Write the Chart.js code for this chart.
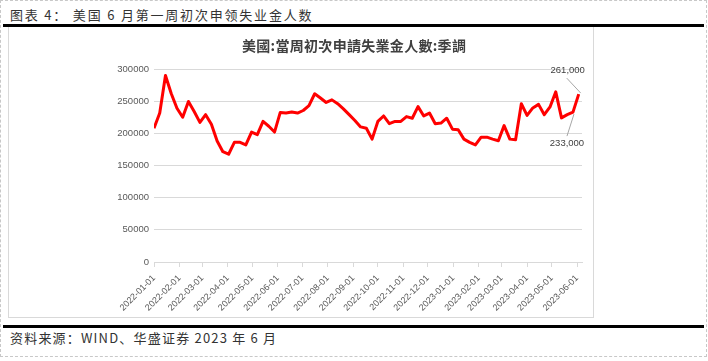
<!DOCTYPE html>
<html><head><meta charset="utf-8">
<script src="https://cdn.jsdelivr.net/npm/chart.js@4.4.0/dist/chart.umd.min.js"></script>
<style>
html,body{margin:0;padding:0;background:#fff;}
body{width:708px;height:361px;position:relative;overflow:hidden;font-family:"Noto Sans CJK SC",sans-serif;}
#frame{position:absolute;left:0;top:0;width:705px;height:355px;border:1px dashed #c8c8c8;}
#fig-title{position:absolute;left:10px;top:6px;font-size:13px;line-height:18px;color:#333;letter-spacing:1.8px;white-space:nowrap;}
.rule{position:absolute;left:3px;width:701px;height:3px;background:#000;}
#box{position:absolute;left:8px;top:27px;width:584px;height:290px;border:1px solid #d9d9d9;border-top:none;}
#chart-wrap{position:absolute;left:9px;top:28px;width:584px;height:290px;}
#chart-title{position:absolute;left:242px;top:36px;font-family:"Noto Sans CJK TC",sans-serif;font-size:14px;line-height:18px;font-weight:bold;color:#404040;letter-spacing:0.3px;white-space:nowrap;}
#source{position:absolute;left:10px;top:329px;font-size:13px;line-height:18px;color:#333;letter-spacing:1.2px;white-space:nowrap;}
</style>
</head><body>
<div id="frame"></div>
<div id="fig-title">图表 4： 美国 6 月第一周初次申领失业金人数</div>
<div class="rule" style="top:24px"></div>
<div id="box"></div>
<div id="chart-wrap"><canvas id="c" width="584" height="290"></canvas></div>
<div id="chart-title">美國:當周初次申請失業金人數:季調</div>
<div class="rule" style="top:325px"></div>
<div id="source">资料来源：WIND、华盛证券 2023 年 6 月</div>
<script>
// weekly dates (week ending)
const weekDates = [
 '2022-01-01','2022-01-08','2022-01-15','2022-01-22','2022-01-29',
 '2022-02-05','2022-02-12','2022-02-19','2022-02-26',
 '2022-03-05','2022-03-12','2022-03-19','2022-03-26',
 '2022-04-02','2022-04-09','2022-04-16','2022-04-23','2022-04-30',
 '2022-05-07','2022-05-14','2022-05-21','2022-05-28',
 '2022-06-04','2022-06-11','2022-06-18','2022-06-25',
 '2022-07-02','2022-07-09','2022-07-16','2022-07-23','2022-07-30',
 '2022-08-06','2022-08-13','2022-08-20','2022-08-27',
 '2022-09-03','2022-09-10','2022-09-17','2022-09-24',
 '2022-10-01','2022-10-08','2022-10-15','2022-10-22','2022-10-29',
 '2022-11-05','2022-11-12','2022-11-19','2022-11-26',
 '2022-12-03','2022-12-10','2022-12-17','2022-12-24','2022-12-31',
 '2023-01-07','2023-01-14','2023-01-21','2023-01-28',
 '2023-02-04','2023-02-11','2023-02-18','2023-02-25',
 '2023-03-04','2023-03-11','2023-03-18','2023-03-25',
 '2023-04-01','2023-04-08','2023-04-15','2023-04-22','2023-04-29',
 '2023-05-06','2023-05-13','2023-05-20','2023-05-27','2023-06-03'
];
// initial jobless claims, seasonally adjusted
const initialClaims = [
 208000,231500,290000,262000,239000,
 225000,249500,234000,217000,
 229000,214000,188000,171500,
 167500,186000,186000,182000,202000,
 198000,218500,211000,202000,
 232500,231500,233000,231500,
 235500,243000,261500,255000,248000,
 252000,246000,238000,229000,
 220000,210000,208000,191000,
 218500,227000,215000,218500,218500,
 226000,223500,241500,227000,
 231500,215000,216000,223500,206500,
 205500,191000,186000,182000,
 194000,194000,191000,188500,
 212000,191000,190000,246000,
 228000,239500,245000,229000,241000,
 264500,224000,229000,233000,261000
];
const xTickLabels = [
 '2022-01-01','2022-02-01','2022-03-01','2022-04-01','2022-05-01','2022-06-01',
 '2022-07-01','2022-08-01','2022-09-01','2022-10-01','2022-11-01','2022-12-01',
 '2023-01-01','2023-02-01','2023-03-01','2023-04-01','2023-05-01','2023-06-01'
];
const yTickValues = [0,50000,100000,150000,200000,250000,300000];
const axisEndDate = '2023-06-07';
const labelledPoints = [73, 74]; // indices of annotated points

const DAY = 86400000;
const origin = Date.UTC(2022,0,1);
function dayIndex(s){const p=s.split('-').map(Number);return (Date.UTC(p[0],p[1]-1,p[2])-origin)/DAY;}

const points = weekDates.map((d,i)=>({x:dayIndex(d), y:initialClaims[i]}));

const labelPlugin = {
  id:'endLabels',
  afterDatasetsDraw(chart){
    const ctx = chart.ctx;
    const meta = chart.getDatasetMeta(0);
    ctx.save();
    ctx.font = '9.5px "Liberation Sans", Arial, sans-serif';
    ctx.fillStyle = '#404040';
    ctx.strokeStyle = '#a6a6a6';
    ctx.lineWidth = 1;
    ctx.textAlign = 'center';
    ctx.textBaseline = 'middle';
    const pA = meta.data[labelledPoints[0]];
    const vA = initialClaims[labelledPoints[0]].toLocaleString('en-US');
    ctx.beginPath(); ctx.moveTo(pA.x+1, pA.y+2); ctx.lineTo(pA.x-6, pA.y+24); ctx.stroke();
    ctx.fillText(vA, pA.x-6, pA.y+31);
    const pB = meta.data[labelledPoints[1]];
    const vB = initialClaims[labelledPoints[1]].toLocaleString('en-US');
    ctx.beginPath(); ctx.moveTo(pB.x+2, pB.y-1); ctx.lineTo(pB.x-12, pB.y-16); ctx.stroke();
    ctx.fillText(vB, pB.x-11, pB.y-23.5);
    ctx.restore();
  }
};

new Chart(document.getElementById('c'), {
  type:'line',
  data:{datasets:[{
    data:points,
    borderColor:'#ff0000',
    borderWidth:3,
    pointRadius:0,
    tension:0,
    borderJoinStyle:'round',
    fill:false
  }]},
  options:{
    responsive:false,
    animation:false,
    devicePixelRatio:1,
    layout:{padding:{left:0,right:11,top:41,bottom:0}},
    plugins:{
      legend:{display:false},
      tooltip:{enabled:false},
      title:{display:false}
    },
    scales:{
      x:{
        type:'linear',
        min:0,
        max:dayIndex(axisEndDate),
        afterBuildTicks(scale){ scale.ticks = xTickLabels.map(s=>({value:dayIndex(s)})); },
        afterFit(scale){ scale.height = 56; },
        grid:{drawOnChartArea:false, drawTicks:true, tickLength:5, color:'#d9d9d9'},
        border:{display:true, color:'#d9d9d9'},
        ticks:{
          autoSkip:false, minRotation:45, maxRotation:45, padding:6,
          color:'#595959',
          font:{family:'"Liberation Sans", Arial, sans-serif', size:9},
          callback(v){ const i = xTickLabels.findIndex(s=>dayIndex(s)===v); return i>=0?xTickLabels[i]:''; }
        }
      },
      y:{
        min:0, max:300000,
        afterBuildTicks(scale){ scale.ticks = yTickValues.map(v=>({value:v})); },
        afterFit(scale){ scale.width = 145; },
        grid:{drawTicks:false, color:'#d9d9d9'},
        border:{display:false},
        ticks:{
          padding:5, color:'#595959',
          font:{family:'"Liberation Sans", Arial, sans-serif', size:9.5},
          callback(v){ return String(v); }
        }
      }
    }
  },
  plugins:[labelPlugin]
});
</script>
</body></html>
